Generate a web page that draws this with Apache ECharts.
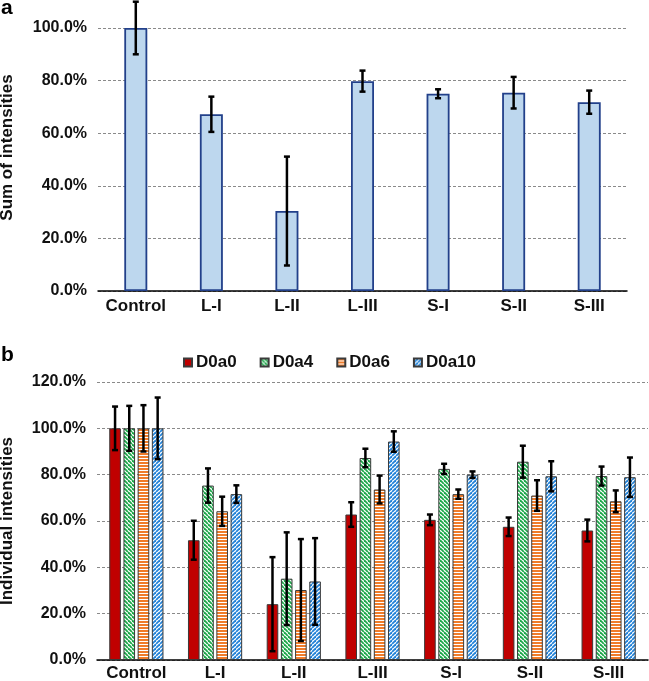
<!DOCTYPE html>
<html>
<head>
<meta charset="utf-8">
<script src="https://cdn.jsdelivr.net/npm/echarts@6/dist/echarts.min.js"></script>
<style>
html,body{margin:0;padding:0;background:#fff;}
#chart{width:649px;height:681px;}
</style>
</head>
<body>
<div id="chart"></div>
<script>
// ---------- data ----------
const categories = ['Control', 'L-I', 'L-II', 'L-III', 'S-I', 'S-II', 'S-III'];

// panel a: sum of intensities (%)
const sumValues = [100, 67.2, 30.4, 79.8, 75.0, 75.4, 71.8];
const sumErrors = [10.0, 6.7, 20.7, 4.0, 1.7, 6.0, 4.4];

// panel b: individual intensities (%)
const seriesNames = ['D0a0', 'D0a4', 'D0a6', 'D0a10'];
const d0a0Values = [100, 51.7, 24.1, 62.8, 60.5, 57.5, 55.9];
const d0a0Errors = [9.4, 8.4, 20.3, 5.3, 2.3, 4.0, 4.7];
const d0a4Values = [100, 75.3, 35.1, 87.2, 82.5, 85.6, 79.4];
const d0a4Errors = [9.7, 7.4, 20.0, 4.0, 2.2, 6.9, 4.1];
const d0a6Values = [100, 64.2, 30.2, 73.6, 71.6, 71.0, 68.5];
const d0a6Errors = [10.0, 6.3, 22.0, 6.0, 2.0, 6.6, 4.7];
const d0a10Values = [100, 71.6, 33.9, 94.3, 80.0, 79.3, 78.9];
const d0a10Errors = [13.3, 3.8, 18.7, 4.4, 1.4, 6.5, 8.5];

const yTicksA = { min: 0, max: 100, interval: 20 };
const yTicksB = { min: 0, max: 120, interval: 20 };

// ---------- patterns ----------
function diagPattern(color, dir) {
  const s = 4;
  const c = document.createElement('canvas');
  c.width = s; c.height = s;
  const g = c.getContext('2d');
  g.fillStyle = '#fff'; g.fillRect(0, 0, s, s);
  g.strokeStyle = color; g.lineWidth = 1.8;
  for (let k = -s; k <= s; k += s) {
    g.beginPath();
    if (dir === 'back') { g.moveTo(k, 0); g.lineTo(k + s, s); }
    else { g.moveTo(k, s); g.lineTo(k + s, 0); }
    g.stroke();
  }
  return { image: c, repeat: 'repeat' };
}
function hPattern(color) {
  const c = document.createElement('canvas');
  c.width = 4; c.height = 3;
  const g = c.getContext('2d');
  g.fillStyle = '#fff'; g.fillRect(0, 0, 4, 3);
  g.fillStyle = color; g.fillRect(0, 0, 4, 2);
  return { image: c, repeat: 'repeat' };
}

const FONT = '"Liberation Sans", Arial, sans-serif';
const BW = 11.6, BG = 2.6; // bar width and gap in panel b
const groupOffsets = [0, 1, 2, 3].map(i => -(4 * BW + 3 * BG) / 2 + BW / 2 + i * (BW + BG));

function errRender(offset, cap) {
  return function (params, api) {
    const idx = api.value(0), v = api.value(1), e = api.value(2);
    const top = api.coord([idx, v + e]);
    const bot = api.coord([idx, v - e]);
    const x = top[0] + offset;
    const st = { stroke: '#000', lineWidth: 2.5 };
    return {
      type: 'group',
      children: [
        { type: 'line', shape: { x1: x, y1: top[1], x2: x, y2: bot[1] }, style: st },
        { type: 'line', shape: { x1: x - cap, y1: top[1], x2: x + cap, y2: top[1] }, style: st },
        { type: 'line', shape: { x1: x - cap, y1: bot[1], x2: x + cap, y2: bot[1] }, style: st }
      ]
    };
  };
}

const pctFmt = v => v.toFixed(1) + '%';
const axisLabelY = { formatter: pctFmt, fontFamily: FONT, fontWeight: 'bold', fontSize: 16, color: '#111', margin: 11 };
const splitLine = { show: true, lineStyle: { color: '#8a8a8a', type: [3, 2], width: 1 } };

const chart = echarts.init(document.getElementById('chart'), null, { renderer: 'canvas' });

const bValues = [d0a0Values, d0a4Values, d0a6Values, d0a10Values];
const bErrors = [d0a0Errors, d0a4Errors, d0a6Errors, d0a10Errors];
const bColors = ['#C00000', diagPattern('#1DA84A', 'back'), hPattern('#F07C2A'), diagPattern('#2483D8', 'fwd')];

const series = [
  {
    type: 'bar', xAxisIndex: 0, yAxisIndex: 0, data: sumValues, barWidth: 23,
    itemStyle: { color: '#BDD7EE', borderColor: '#22408A', borderWidth: 1.8 },
    silent: true
  },
  {
    type: 'custom', xAxisIndex: 0, yAxisIndex: 0, z: 10,
    data: sumValues.map((v, i) => [i, v, sumErrors[i]]),
    renderItem: errRender(0, 3), silent: true
  }
];
seriesNames.forEach((n, k) => {
  series.push({
    name: n, type: 'bar', xAxisIndex: 1, yAxisIndex: 1, data: bValues[k],
    barWidth: BW, barGap: (BG / BW * 100).toFixed(1) + '%',
    itemStyle: { color: bColors[k], borderColor: '#3a3a3a', borderWidth: 1 },
    silent: true
  });
});
seriesNames.forEach((n, k) => {
  series.push({
    type: 'custom', xAxisIndex: 1, yAxisIndex: 1, z: 10,
    data: bValues[k].map((v, i) => [i, v, bErrors[k][i]]),
    renderItem: errRender(groupOffsets[k], 3), silent: true
  });
});

const xLabel = { fontFamily: FONT, fontWeight: 'bold', fontSize: 17, color: '#111', interval: 0 };

chart.setOption({
  animation: false,
  backgroundColor: '#fff',
  textStyle: { fontFamily: FONT },
  graphic: [
    { type: 'text', left: 1, top: -2, style: { text: 'a', font: 'bold 21px ' + FONT, fill: '#000' } },
    { type: 'text', left: 1, top: 345, style: { text: 'b', font: 'bold 21px ' + FONT, fill: '#000' } }
  ],
  legend: {
    data: seriesNames, top: 349, left: 178, itemWidth: 8, itemHeight: 8, itemGap: 23,
    icon: 'rect',
    textStyle: { fontFamily: FONT, fontWeight: 'bold', fontSize: 17, color: '#111', padding: [0, 0, 0, -1] }
  },
  grid: [
    { left: 98, right: 22, top: 28, bottom: 390, containLabel: false, outerBoundsMode: 'none' },
    { left: 97, right: 1, top: 382, bottom: 21, containLabel: false, outerBoundsMode: 'none' }
  ],
  xAxis: [
    {
      gridIndex: 0, type: 'category', data: categories,
      axisLine: { lineStyle: { color: '#000', width: 1.5 } }, axisTick: { show: false },
      axisLabel: Object.assign({ margin: 7 }, xLabel)
    },
    {
      gridIndex: 1, type: 'category', data: categories,
      axisLine: { lineStyle: { color: '#000', width: 1.5 } }, axisTick: { show: false },
      axisLabel: Object.assign({ margin: 5 }, xLabel)
    }
  ],
  yAxis: [
    {
      gridIndex: 0, type: 'value', min: yTicksA.min, max: yTicksA.max, interval: yTicksA.interval,
      axisLine: { show: false }, axisTick: { show: false }, axisLabel: axisLabelY, splitLine: splitLine,
      name: 'Sum of intensities', nameLocation: 'middle', nameGap: 82,
      nameTextStyle: { fontFamily: FONT, fontWeight: 'bold', fontSize: 17, color: '#111', padding: [0, 0, 0, 24] }
    },
    {
      gridIndex: 1, type: 'value', min: yTicksB.min, max: yTicksB.max, interval: yTicksB.interval,
      axisLine: { show: false }, axisTick: { show: false }, axisLabel: axisLabelY, splitLine: splitLine,
      name: 'Individual intensities', nameLocation: 'middle', nameGap: 81,
      nameTextStyle: { fontFamily: FONT, fontWeight: 'bold', fontSize: 17, color: '#111' }
    }
  ],
  series: series
});
</script>
</body>
</html>
